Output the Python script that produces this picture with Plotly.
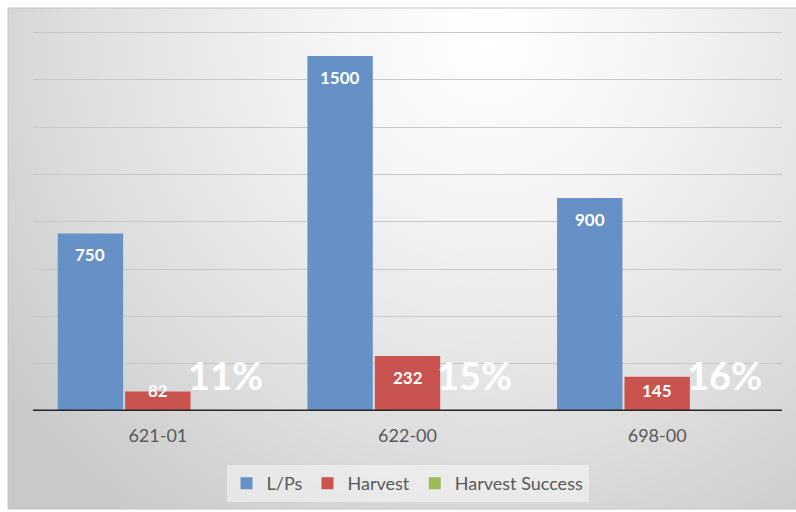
import base64
import plotly.graph_objects as go

# ---- data ----
categories = ["621-01", "622-00", "698-00"]
lps = [750, 1500, 900]
harvest = [82, 232, 145]
harvest_success = [0.11, 0.15, 0.16]

# ---- figure geometry ----
W, H = 796, 512
L, R, T, B = 33, 14, 30, 101
plot_w, plot_h = W - L - R, H - T - B
YMAX = 1610
BARGAP, GROUPGAP = 0.19, 0.03
px_per_unit = plot_h / YMAX
slot = (plot_w / len(categories)) * (1 - BARGAP) / 3

FONT = "Lato, 'Open Sans', sans-serif"
BLUE, RED, GREEN = "#6591c7", "#c9534f", "#9bbb59"
TEXT_GRAY = "#595959"

fig = go.Figure()
for name, vals, col in [("L/Ps", lps, BLUE), ("Harvest", harvest, RED),
                        ("Harvest Success", harvest_success, GREEN)]:
    fig.add_trace(go.Bar(x=categories, y=vals, name=name, marker_color=col,
                         marker_line_width=0, hoverinfo="x+y"))

# value labels inside the top of the blue and red bars
annotations = []
for offset, vals in [(-slot, lps), (0, harvest)]:
    for c, v in zip(categories, vals):
        h = v * px_per_unit
        center = max(h - 21, 21)
        annotations.append(dict(
            x=c, y=v, xref="x", yref="y", text=f"<b>{v}</b>", showarrow=False,
            xshift=offset, yshift=center - h, yanchor="middle",
            font=dict(family=FONT, size=17, color="white")))

# large percentage labels above the (tiny) success bars
for c, v in zip(categories, harvest_success):
    annotations.append(dict(
        x=c, y=v, xref="x", yref="y", text=f"<b>{v:.0%}</b>", showarrow=False,
        xshift=slot, yshift=36, yanchor="middle",
        font=dict(family=FONT, size=38, color="white")))

# soft radial background panel
fx0, fy0, fx1, fy1 = 8, 8, 796, 509
bw, bh = fx1 - fx0, fy1 - fy0
svg = f"""<svg xmlns='http://www.w3.org/2000/svg' width='{bw}' height='{bh}' viewBox='0 0 {bw} {bh}'>
<defs><radialGradient id='g' gradientUnits='userSpaceOnUse' cx='480' cy='30' r='600'>
<stop offset='0' stop-color='#ffffff'/>
<stop offset='0.3' stop-color='#f3f3f3'/>
<stop offset='0.7' stop-color='#dddddd'/>
<stop offset='1' stop-color='#c9c9c9'/>
</radialGradient></defs>
<rect x='0' y='0' width='{bw}' height='{bh}' fill='url(#g)'/></svg>"""
src = "data:image/svg+xml;base64," + base64.b64encode(svg.encode()).decode()


def px_x(p):
    return (p - L) / plot_w


def px_y(p):
    return (H - B - p) / plot_h


fig.update_layout(
    width=W, height=H,
    margin=dict(l=L, r=R, t=T, b=B, pad=0, autoexpand=False),
    paper_bgcolor="white",
    plot_bgcolor="rgba(0,0,0,0)",
    barmode="group", bargap=BARGAP, bargroupgap=GROUPGAP,
    font=dict(family=FONT, color=TEXT_GRAY),
    showlegend=True,
    legend=dict(orientation="h", x=0.5, xanchor="center",
                yref="container", y=1 - 465 / H, yanchor="top",
                bgcolor="rgba(255,255,255,0.45)",
                font=dict(family=FONT, size=18, color=TEXT_GRAY),
                traceorder="normal"),
    annotations=annotations,
    images=[dict(source=src, xref="paper", yref="paper",
                 x=px_x(fx0), y=px_y(fy0), sizex=bw / plot_w, sizey=bh / plot_h,
                 xanchor="left", yanchor="top", sizing="stretch", layer="below")],
    shapes=[
        dict(type="rect", xref="paper", yref="paper",
             x0=px_x(fx0), x1=px_x(fx1 + 2), y0=px_y(fy1), y1=px_y(fy0),
             line=dict(color="#c4c4c4", width=1), layer="below"),
        # category axis baseline, drawn over the bar bases
        dict(type="line", xref="paper", yref="y", x0=0, x1=1, y0=0, y1=0,
             line=dict(color="#262626", width=3), layer="above"),
    ],
    xaxis=dict(showline=False, ticks="", ticklabelstandoff=12,
               tickfont=dict(family=FONT, size=18, color=TEXT_GRAY),
               showgrid=False, fixedrange=True, automargin=False),
    yaxis=dict(range=[0, YMAX], dtick=200, showticklabels=False,
               showgrid=True, gridcolor="#c8c8c8", gridwidth=1,
               zeroline=False, fixedrange=True, automargin=False),
)

fig.write_html("out.html")
